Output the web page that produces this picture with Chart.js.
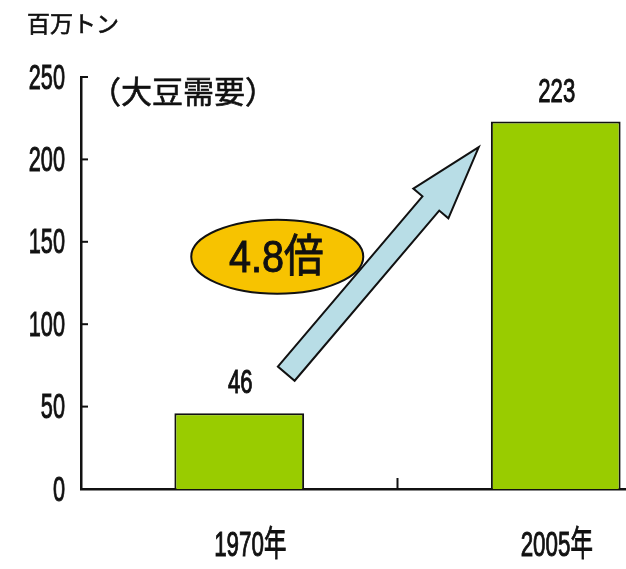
<!DOCTYPE html>
<html>
<head>
<meta charset="utf-8">
<script src="https://cdn.jsdelivr.net/npm/chart.js@4/dist/chart.umd.min.js"></script>
<style>
html,body{margin:0;padding:0;background:#fff;overflow:hidden;}
#wrap{width:720px;height:569px;}
</style>
</head>
<body>
<div id="wrap"><canvas id="c" width="720" height="569"></canvas></div>
<script>
// ---- data ----
const categories = ['1970年', '2005年'];
const demand = [46, 223];
const yMin = 0, yMax = 250, yStep = 50;
const unitLabel = '百万トン';
const seriesLabel = '（大豆需要）';
const ratioLabel = '4.8倍';

const NUM_FONT = "'Liberation Sans', 'Noto Sans CJK JP', sans-serif";
const CJK_FONT = "'Noto Sans CJK JP', sans-serif";

function squeezeText(ctx, text, x, y, size, family, sx, align) {
  ctx.save();
  ctx.translate(x, y);
  ctx.scale(sx, 1);
  ctx.font = size + 'px ' + family;
  ctx.textAlign = align || 'center';
  ctx.textBaseline = 'middle';
  ctx.fillStyle = '#111';
  ctx.strokeStyle = '#111';
  ctx.lineWidth = 1;
  ctx.fillText(text, 0, 0);
  ctx.strokeText(text, 0, 0);
  ctx.restore();
}

function plainText(ctx, text, x, y, size) {
  ctx.save();
  ctx.font = size + 'px ' + CJK_FONT;
  ctx.textAlign = 'left';
  ctx.textBaseline = 'middle';
  ctx.fillStyle = '#111';
  ctx.strokeStyle = '#111';
  ctx.lineWidth = 0.6;
  ctx.fillText(text, x, y);
  ctx.strokeText(text, x, y);
  ctx.restore();
}

const decor = {
  id: 'decor',
  afterDraw(chart) {
    const ctx = chart.ctx;
    const xs = chart.scales.x, ys = chart.scales.y;
    const area = chart.chartArea;

    // y tick marks (inside) and labels
    ctx.save();
    ctx.strokeStyle = '#111';
    ctx.lineWidth = 2;
    ys.ticks.forEach(t => {
      const py = ys.getPixelForValue(t.value);
      if (t.value !== yMin) {
        ctx.beginPath();
        ctx.moveTo(area.left, py);
        ctx.lineTo(area.left + 7, py);
        ctx.stroke();
      }
    });
    for (let i = 0; i < categories.length - 1; i++) {
      const px = xs.getPixelForValue(i + 0.5);
      ctx.beginPath();
      ctx.moveTo(px, area.bottom);
      ctx.lineTo(px, area.bottom - 11);
      ctx.stroke();
    }
    ctx.restore();
    ys.ticks.forEach(t => {
      const py = ys.getPixelForValue(t.value);
      squeezeText(ctx, String(t.value), area.left - 16, py + 2, 35, NUM_FONT, 0.62, 'right');
    });

    // category labels
    const catDx = [11, 1];
    categories.forEach((c, i) => {
      squeezeText(ctx, c, xs.getPixelForValue(i) + catDx[i], area.bottom + 57, 35, NUM_FONT, 0.64, 'center');
    });

    // value labels
    const meta = chart.getDatasetMeta(0);
    meta.data.forEach((bar, i) => {
      squeezeText(ctx, String(demand[i]), bar.x + 1, bar.y - 29, 33, NUM_FONT, 0.67, 'center');
    });

    // unit and series labels
    plainText(ctx, unitLabel, 27, 23, 23);
    plainText(ctx, seriesLabel, 90, 91, 31);

    // arrow
    const tx = xs.getPixelForValue(0) + 47, ty = ys.getPixelForValue(70);
    const px = xs.getPixelForValue(1) - 77, py = ys.getPixelForValue(207.5);
    const dx = px - tx, dy = py - ty, len = Math.hypot(dx, dy);
    const ux = dx / len, uy = dy / len, nx = -uy, ny = ux;
    const w = 11, h = 23, L = 74;
    const bx = px - ux * L, by = py - uy * L;
    const pts = [
      [tx + nx * w, ty + ny * w], [bx + nx * w, by + ny * w], [bx + nx * h, by + ny * h],
      [px, py],
      [bx - nx * h, by - ny * h], [bx - nx * w, by - ny * w], [tx - nx * w, ty - ny * w]
    ];
    ctx.save();
    ctx.beginPath();
    pts.forEach((p, i) => i ? ctx.lineTo(p[0], p[1]) : ctx.moveTo(p[0], p[1]));
    ctx.closePath();
    ctx.fillStyle = '#b8dde6';
    ctx.fill();
    ctx.lineWidth = 2;
    ctx.strokeStyle = '#111';
    ctx.lineJoin = 'miter';
    ctx.stroke();
    ctx.restore();

    // ellipse with ratio
    const ex = xs.getPixelForValue(0) + 38, ey = ys.getPixelForValue(141);
    ctx.save();
    ctx.beginPath();
    ctx.ellipse(ex, ey, 86, 37, 0, 0, Math.PI * 2);
    ctx.fillStyle = '#f7c300';
    ctx.fill();
    ctx.lineWidth = 2;
    ctx.strokeStyle = '#111';
    ctx.stroke();
    ctx.restore();
    squeezeText(ctx, ratioLabel, ex - 1, ey + 3, 45, NUM_FONT, 0.88, 'center');
  }
};

new Chart(document.getElementById('c'), {
  type: 'bar',
  data: {
    labels: categories,
    datasets: [{
      data: demand,
      backgroundColor: '#99cc00',
      borderColor: '#111',
      borderWidth: 2,
      borderSkipped: 'bottom',
      barPercentage: 0.41,
      categoryPercentage: 1
    }]
  },
  options: {
    responsive: false,
    animation: false,
    devicePixelRatio: 1,
    layout: { padding: { top: 77, left: 0, right: 6, bottom: 0 } },
    plugins: { legend: { display: false }, tooltip: { enabled: false }, title: { display: false } },
    scales: {
      x: {
        grid: { display: false },
        border: { display: true, color: '#111', width: 2.5 },
        ticks: { display: false },
        afterFit(s) { s.height = 80; }
      },
      y: {
        min: yMin, max: yMax,
        ticks: { display: false, stepSize: yStep },
        grid: { display: false },
        border: { display: true, color: '#111', width: 2.5 },
        afterFit(s) { s.width = 81; }
      }
    }
  },
  plugins: [decor]
});
</script>
</body>
</html>
